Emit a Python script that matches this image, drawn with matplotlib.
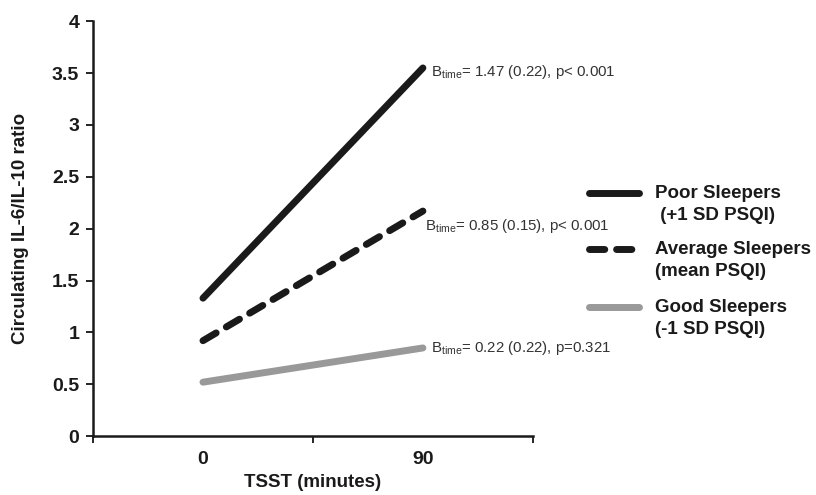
import matplotlib
matplotlib.use("Agg")
import matplotlib.pyplot as plt
from matplotlib.lines import Line2D

plt.rcParams['font.family'] = ['Liberation Sans', 'DejaVu Sans']

times = ["0", "90"]
poor = [1.33, 3.55]
average = [0.92, 2.17]
good = [0.52, 0.85]
notes = ["= 1.47 (0.22), p< 0.001", "= 0.85 (0.15), p< 0.001", "= 0.22 (0.22), p=0.321"]
legend_labels = ["Poor Sleepers\n (+1 SD PSQI)", "Average Sleepers\n(mean PSQI)", "Good Sleepers\n(-1 SD PSQI)"]

fig = plt.figure(figsize=(8.16, 4.95), dpi=100)
ax = fig.add_axes([0.114, 0.119, 0.539, 0.838])

x = range(len(times))
ax.plot(x, poor, color="#1a1a1a", lw=5, solid_capstyle="round")
ax.plot(x, average, color="#1a1a1a", lw=5, dashes=(2.2, 1.7), dash_capstyle="round")
ax.plot(x, good, color="#999999", lw=5, solid_capstyle="round")

ax.set_xlim(-0.5, 1.5)
ax.set_ylim(0, 4)
ax.set_xticks([-0.5, 0.5, 1.5])
ax.set_xticklabels([])
ax.set_xticks(list(x), minor=True)
ax.set_xticklabels(times, minor=True)
ax.tick_params(axis="x", which="minor", length=0, pad=11)
ax.tick_params(axis="x", which="major", length=5, width=1.2, direction="out")
ax.set_yticks([0, 0.5, 1, 1.5, 2, 2.5, 3, 3.5, 4])
ax.set_yticklabels(["0", "0.5", "1", "1.5", "2", "2.5", "3", "3.5", "4"])
ax.tick_params(axis="y", length=5, width=1.2, direction="out", pad=5)
for lab in ax.get_xticklabels(minor=True) + ax.get_yticklabels():
    lab.set_fontweight("bold")
    lab.set_fontsize(14)
    lab.set_color("#1a1a1a")

for s in ["top", "right"]:
    ax.spines[s].set_visible(False)
for s in ["left", "bottom"]:
    ax.spines[s].set_linewidth(1.8)
    ax.spines[s].set_color("#1a1a1a")

ax.set_xlabel("TSST (minutes)", fontsize=13.5, fontweight="bold", color="#1a1a1a", va="center")
ax.xaxis.set_label_coords(0.5, -0.113)
ax.set_ylabel("Circulating IL-6/IL-10 ratio", fontsize=13.5, fontweight="bold", color="#1a1a1a", va="center")
ax.yaxis.set_label_coords(-0.166, 0.5)

# slope annotations at the 90 minute end
offsets = [(6, -3), (1.5, -11), (6, 0)]
for vals, note, off in zip([poor, average, good], notes, offsets):
    ax.annotate(r"B$_{\mathregular{time}}$" + note, xy=(1, vals[1]), xytext=off,
                textcoords="offset points", fontsize=10.8, color="#333333",
                va="center", ha="left")

# legend drawn by hand so the line sits on the first text row
handle_styles = [dict(color="#1a1a1a"), dict(color="#1a1a1a", dashes=(2.2, 1.7)), dict(color="#999999")]
rows = [193, 249, 307]
for lab, st, yp in zip(legend_labels, handle_styles, rows):
    yf = 1 - yp / 495
    fig.add_artist(Line2D([589 / 816, 639 / 816], [yf, yf], lw=5, solid_capstyle="round",
                          dash_capstyle="round", transform=fig.transFigure, **st))
    for i, part in enumerate(lab.split("\n")):
        fig.text(655 / 816, 1 - (yp + 22 * i) / 495, part, fontsize=13.5, fontweight="bold",
                 color="#1a1a1a", va="center", ha="left")

fig.savefig("out.png", dpi=100)
